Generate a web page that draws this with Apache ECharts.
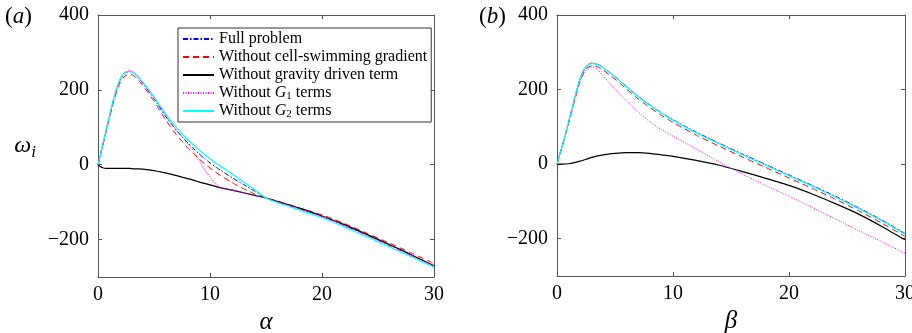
<!DOCTYPE html>
<html>
<head>
<meta charset="utf-8">
<script src="https://cdn.jsdelivr.net/npm/echarts@6/dist/echarts.min.js"></script>
<style>
html,body{margin:0;padding:0;background:#fff;}
#c{width:912px;height:333px;}
</style>
</head>
<body>
<div id="c"></div>
<script>
// ---- Data (a): omega_i vs alpha ----
var alpha = [0, 0.2, 0.4, 0.7, 1.0, 1.3, 1.6, 2.0, 2.4, 2.8, 3.2, 3.6, 4, 5, 6, 7, 8, 8.5, 9, 9.5, 10, 10.5, 11, 12, 13, 14, 15, 16, 18, 20, 22, 24, 26, 28, 30];
var aFull   = [0, 25, 50, 88, 126, 163, 196, 228, 245, 249, 245, 232, 218, 177, 131, 92, 59, 44, 30, 17, 5, -6, -16, -35, -53, -71, -89, -99, -118, -138, -162, -188, -215, -242, -271];
var aNoSwim = [0, 23, 47, 84, 121, 157, 189, 221, 237, 242, 238, 226, 212, 170, 122, 80, 46, 31, 16, 3, -9, -20, -30, -48, -64, -78, -89, -97, -116, -134, -157, -183, -209, -236, -264];
var aNoGrav = [0, -5, -8, -10, -10, -10, -10, -10, -10, -10, -11, -11, -12, -16, -22, -29, -37, -41, -46, -50, -54, -58, -62, -68, -75, -82, -89, -98, -116, -137, -160, -186, -213, -241, -270];
var aNoG1   = [0, 25, 51, 89, 127, 164, 198, 230, 247, 251, 247, 234, 220, 179, 133, 92, 57, 38, 12, -12, -33, -50, -62, -68, -75, -82, -89, -99, -118, -138, -162, -188, -215, -242, -271];
var aNoG2   = [0, 25, 51, 90, 128, 165, 198, 230, 246, 249, 246, 234, 221, 181, 137, 100, 68, 54, 40, 28, 16, 5, -5, -25, -46, -67, -89, -101, -121, -141, -166, -192, -219, -246, -273];

// ---- Data (b): omega_i vs beta ----
var beta = [0, 0.5, 1, 1.5, 2, 2.5, 3, 3.5, 4, 5, 6, 7, 8, 9, 10, 12, 14, 16, 18, 20, 22, 24, 26, 28, 30];
var bFull   = [0, 55, 113, 175, 230, 263, 271, 268, 259, 235, 208, 182, 159, 138, 119, 86, 56, 27, -1, -29, -57, -86, -117, -150, -186];
var bNoSwim = [0, 52, 108, 168, 223, 256, 264, 261, 252, 228, 201, 175, 152, 131, 112, 78, 48, 19, -9, -37, -65, -94, -125, -158, -194];
var bNoGrav = [0, 0, 1, 4, 8, 13, 18, 22, 25, 29, 31, 31, 29, 25, 21, 10, -3, -20, -38, -57, -80, -106, -134, -167, -203];
var bNoG1   = [0, 54, 111, 172, 226, 255, 261, 254, 236, 201, 169, 140, 114, 93, 75, 41, 6, -27, -57, -86, -116, -147, -178, -208, -239];
var bNoG2   = [0, 55, 113, 175, 230, 262, 270, 267, 258, 234, 207, 181, 158, 137, 118, 84, 54, 25, -3, -31, -59, -88, -119, -152, -188];

var names = ['Full problem', 'Without cell-swimming gradient', 'Without gravity driven term', 'Without G1 terms', 'Without G2 terms'];
var yTicks = [-200, 0, 200, 400];

function pairs(xs, ys) { return xs.map(function (x, i) { return [x, ys[i]]; }); }

var styles = [
  {color: '#0000ff', type: [5, 2, 1.5, 2], width: 1},
  {color: '#ff0000', type: [6, 4], width: 1},
  {color: '#000000', type: 'solid', width: 1.2},
  {color: '#ff00ff', type: [1, 1.5], width: 1},
  {color: '#00ffff', type: 'solid', width: 1.2}
];

var serif = 'Liberation Serif';
var axisColor = '#555';

function mkX(grid, pos, showLabel, name) {
  return {
    type: 'value', gridIndex: grid, position: pos, min: 0, max: 30, interval: 10,
    axisLine: {show: true, onZero: false, lineStyle: {color: axisColor, width: 1}},
    axisTick: {show: true, inside: true, length: 4, lineStyle: {color: axisColor}},
    axisLabel: {show: showLabel, fontFamily: serif, fontSize: 20, color: '#000', margin: 8},
    splitLine: {show: false},
    name: name || '', nameLocation: 'middle', nameGap: 29,
    nameTextStyle: {fontFamily: serif, fontSize: 25, fontStyle: 'italic', color: '#000'}
  };
}
function mkY(grid, pos, showLabel, withName) {
  return {
    type: 'value', gridIndex: grid, position: pos, min: -300, max: 400, interval: 100,
    axisLine: {show: true, onZero: false, lineStyle: {color: axisColor, width: 1}},
    axisTick: {show: true, inside: true, length: 4, customValues: yTicks, lineStyle: {color: axisColor}},
    axisLabel: {show: showLabel, customValues: yTicks, fontFamily: serif, fontSize: 20, color: '#000', margin: 9,
      formatter: function (v) { return String(v).replace('-', '\u2212'); }},
    splitLine: {show: false},
    name: withName ? '{w|\u03c9}{s|i}' : '', nameLocation: 'middle', nameGap: 62, nameRotate: 0,
    nameTextStyle: {rich: {
      w: {fontFamily: serif, fontSize: 24, fontStyle: 'italic', color: '#000', verticalAlign: 'middle', lineHeight: 30},
      s: {fontFamily: serif, fontSize: 17, fontStyle: 'italic', color: '#000', verticalAlign: 'bottom', lineHeight: 30}
    }}
  };
}

var series = [];
var aSets = [aFull, aNoSwim, aNoGrav, aNoG1, aNoG2];
var bSets = [bFull, bNoSwim, bNoGrav, bNoG1, bNoG2];
for (var i = 0; i < 5; i++) {
  series.push({type: 'line', name: names[i], xAxisIndex: 0, yAxisIndex: 0, data: pairs(alpha, aSets[i]),
    showSymbol: false, symbol: 'none', smooth: 0.2, clip: true, z: 2 + i,
    lineStyle: styles[i], itemStyle: {color: styles[i].color}});
}
for (var j = 0; j < 5; j++) {
  series.push({type: 'line', name: names[j], xAxisIndex: 2, yAxisIndex: 2, data: pairs(beta, bSets[j]),
    showSymbol: false, symbol: 'none', smooth: 0.2, clip: true, z: 2 + j,
    lineStyle: styles[j], itemStyle: {color: styles[j].color}});
}

var chart = echarts.init(document.getElementById('c'), null, {renderer: 'canvas'});
chart.setOption({
  animation: false,
  backgroundColor: '#fff',
  grid: [
    {left: 98, top: 15, width: 336, height: 262, outerBoundsMode: 'none', containLabel: false},
    {left: 557, top: 15, width: 348, height: 261, outerBoundsMode: 'none', containLabel: false}
  ],
  xAxis: [mkX(0, 'bottom', true, '\u03b1'), mkX(0, 'top', false), mkX(1, 'bottom', true, '\u03b2'), mkX(1, 'top', false)],
  yAxis: [mkY(0, 'left', true, true), mkY(0, 'right', false, false), mkY(1, 'left', true, false), mkY(1, 'right', false, false)],
  legend: {
    left: 178, top: 28, orient: 'vertical', itemGap: 0, itemWidth: 31, itemHeight: 18,
    padding: [2, 4, 2, 4], backgroundColor: '#fff', borderColor: '#333', borderWidth: 1,
    selectedMode: false,
    itemStyle: {opacity: 0},
    data: names,
    formatter: function (n) {
      if (n === 'Without G1 terms') return '{n|Without }{i|G}{s|1}{n| terms}';
      if (n === 'Without G2 terms') return '{n|Without }{i|G}{s|2}{n| terms}';
      return '{n|' + n + '}';
    },
    textStyle: {fontFamily: serif, fontSize: 16, color: '#000', lineHeight: 18,
      rich: {
        n: {fontFamily: serif, fontSize: 16, color: '#000', lineHeight: 18},
        i: {fontFamily: serif, fontSize: 16, fontStyle: 'italic', color: '#000', lineHeight: 18},
        s: {fontFamily: serif, fontSize: 11, color: '#000', lineHeight: 18, verticalAlign: 'bottom'}
      }}
  },
  graphic: [
    {type: 'text', left: 5, top: 5, style: {text: '{p|(}{i|a}{p|)}', rich: {
      p: {fontFamily: serif, fontSize: 23, fill: '#000'},
      i: {fontFamily: serif, fontSize: 23, fontStyle: 'italic', fill: '#000'}}}},
    {type: 'text', left: 479, top: 5, style: {text: '{p|(}{i|b}{p|)}', rich: {
      p: {fontFamily: serif, fontSize: 23, fill: '#000'},
      i: {fontFamily: serif, fontSize: 23, fontStyle: 'italic', fill: '#000'}}}}
  ],
  series: series
});
</script>
</body>
</html>
